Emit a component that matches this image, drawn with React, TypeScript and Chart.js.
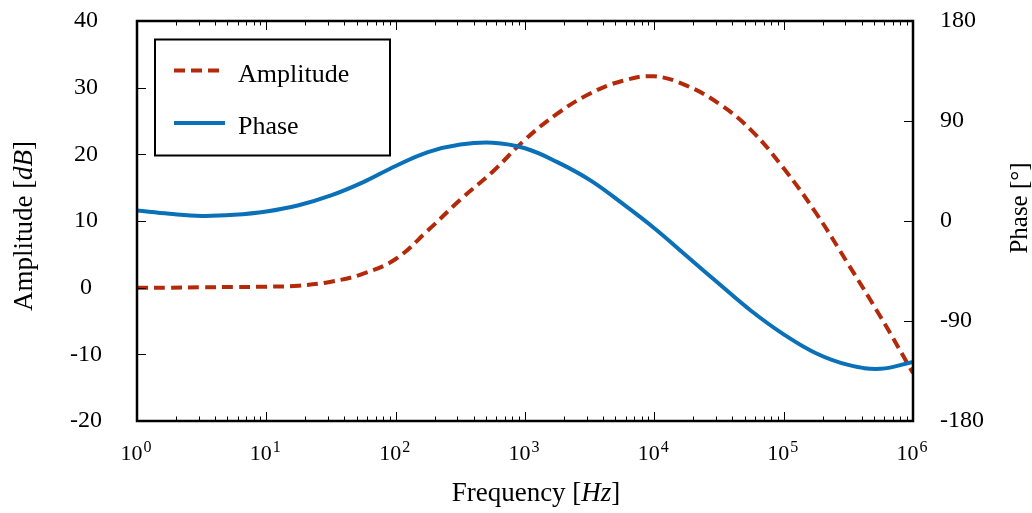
import React, { useEffect, useRef } from 'react';
import { Chart, registerables } from 'chart.js';

Chart.register(...registerables);

// ---- data ----
const frequencies = [
  1, 1.778, 3.162, 5.623, 10, 17.78, 31.62, 56.23, 100, 177.8, 316.2, 562.3,
  1000, 1778, 3162, 5623, 10000, 17783, 31623, 56234, 100000, 177828, 316228,
  562341, 1000000,
];
const amplitude = [
  0, 0, 0.05, 0.1, 0.15, 0.3, 0.9, 2.1, 4.3, 8.6, 13.2, 17.4, 22.2, 26.1, 29.1,
  31.0, 31.7, 30.3, 27.6, 23.6, 17.9, 11.2, 3.5, -4.4, -12.8,
];
const phase = [
  9.4, 6.5, 4.6, 5.6, 8.6, 14.2, 23, 35, 49.5, 62, 68.8, 70.5, 65.5, 53,
  37, 16, -6.5, -31.5, -56.5, -81, -102, -119, -129.5, -133, -126.8,
];
const xTickValues = [1, 10, 100, 1000, 10000, 100000, 1000000];
const xTickExponents = ['0', '1', '2', '3', '4', '5', '6'];
const xMinorMultipliers = [2, 3, 4, 5, 6, 7, 8, 9];
const yTickValues = [-20, -10, 0, 10, 20, 30, 40];
const y1TickValues = [-180, -90, 0, 90, 180];

const seriesNames = ['Amplitude', 'Phase'];
const RED = '#B3290A';
const BLUE = '#0A70B8';
const FONT = "'Liberation Serif', 'Times New Roman', serif";

const decorPlugin = {
  id: 'decor',
  afterDatasetsDraw(chart: any) {
    const ctx = chart.ctx as CanvasRenderingContext2D;
    const ca = chart.chartArea;
    const xs = chart.scales.x;
    const ys = chart.scales.y;
    const y1s = chart.scales.y1;
    ctx.save();
    ctx.strokeStyle = '#000';
    ctx.lineWidth = 1;
    ctx.beginPath();
    const major = 9;
    const minor = 4.5;
    xTickValues.forEach((v, i) => {
      const px = Math.round(xs.getPixelForValue(v)) + 0.5;
      ctx.moveTo(px, ca.bottom);
      ctx.lineTo(px, ca.bottom - major);
      ctx.moveTo(px, ca.top);
      ctx.lineTo(px, ca.top + major);
      if (i < xTickValues.length - 1) {
        xMinorMultipliers.forEach((m) => {
          const mx = Math.round(xs.getPixelForValue(v * m)) + 0.5;
          ctx.moveTo(mx, ca.bottom);
          ctx.lineTo(mx, ca.bottom - minor);
          ctx.moveTo(mx, ca.top);
          ctx.lineTo(mx, ca.top + minor);
        });
      }
    });
    yTickValues.forEach((v) => {
      const py = Math.round(ys.getPixelForValue(v)) + 0.5;
      ctx.moveTo(ca.left, py);
      ctx.lineTo(ca.left + major, py);
    });
    y1TickValues.forEach((v) => {
      const py = Math.round(y1s.getPixelForValue(v)) + 0.5;
      ctx.moveTo(ca.right, py);
      ctx.lineTo(ca.right - major, py);
    });
    ctx.stroke();
    ctx.lineWidth = 2.5;
    ctx.strokeRect(ca.left, ca.top, ca.right - ca.left, ca.bottom - ca.top);

    // legend
    const lx = ca.left + 18;
    const ly = ca.top + 18.5;
    ctx.fillStyle = '#fff';
    ctx.fillRect(lx, ly, 235, 116);
    ctx.lineWidth = 2;
    ctx.strokeRect(lx, ly, 235, 116);
    const ds = chart.data.datasets;
    const rows = [ly + 31, ly + 83.5];
    ds.forEach((d: any, i: number) => {
      ctx.beginPath();
      ctx.strokeStyle = d.borderColor;
      ctx.lineWidth = 4;
      ctx.setLineDash(d.borderDash || []);
      ctx.moveTo(lx + 19, rows[i]);
      ctx.lineTo(lx + 70, rows[i]);
      ctx.stroke();
      ctx.setLineDash([]);
      ctx.fillStyle = '#000';
      ctx.font = `26px ${FONT}`;
      ctx.textBaseline = 'alphabetic';
      ctx.textAlign = 'left';
      ctx.fillText(d.label, lx + 83, rows[i] + 11);
    });
    ctx.restore();
  },
  afterDraw(chart: any) {
    const ctx = chart.ctx as CanvasRenderingContext2D;
    const ca = chart.chartArea;
    const xs = chart.scales.x;
    ctx.save();
    ctx.fillStyle = '#000';
    ctx.textBaseline = 'alphabetic';
    ctx.textAlign = 'left';
    xTickValues.forEach((v, i) => {
      const px = xs.getPixelForValue(v);
      ctx.font = `22px ${FONT}`;
      const wb = ctx.measureText('10').width;
      ctx.font = `16px ${FONT}`;
      const we = ctx.measureText(xTickExponents[i]).width;
      const start = px - (wb + we) / 2 - 1.5;
      ctx.font = `22px ${FONT}`;
      ctx.fillText('10', start, 460);
      ctx.font = `16px ${FONT}`;
      ctx.fillText(xTickExponents[i], start + wb + 1, 451.5);
    });

    const drawMixed = (parts: [string, boolean][], cx: number, cy: number, size: number) => {
      let total = 0;
      parts.forEach(([t, it]) => {
        ctx.font = `${it ? 'italic ' : ''}${size}px ${FONT}`;
        total += ctx.measureText(t).width;
      });
      let x = cx - total / 2;
      parts.forEach(([t, it]) => {
        ctx.font = `${it ? 'italic ' : ''}${size}px ${FONT}`;
        ctx.fillText(t, x, cy);
        x += ctx.measureText(t).width;
      });
    };
    drawMixed([['Frequency [', false], ['Hz', true], [']', false]], 536, 501, 27);
    ctx.save();
    ctx.translate(32, 226);
    ctx.rotate(-Math.PI / 2);
    drawMixed([['Amplitude [', false], ['dB', true], [']', false]], 0, 0, 27);
    ctx.restore();
    ctx.save();
    ctx.translate(1027, 208);
    ctx.rotate(-Math.PI / 2);
    drawMixed([['Phase [°]', false]], 0, 0, 25);
    ctx.restore();
    ctx.restore();
  },
};

const fixVertical = (w: number) => (s: any) => {
  s.width = w;
  s.paddingTop = 0;
  s.paddingBottom = 0;
};

export default function App() {
  const ref = useRef<HTMLCanvasElement>(null);
  useEffect(() => {
    document.body.style.margin = '0';
    const canvas = ref.current!;
    const chart = new Chart(canvas, {
      type: 'line',
      data: {
        datasets: [
          {
            label: seriesNames[0],
            data: frequencies.map((f, i) => ({ x: f, y: amplitude[i] })),
            yAxisID: 'y',
            borderColor: RED,
            borderWidth: 4,
            borderDash: [11, 6],
            pointRadius: 0,
            tension: 0.4,
            fill: false,
            order: 2,
          },
          {
            label: seriesNames[1],
            data: frequencies.map((f, i) => ({ x: f, y: phase[i] })),
            yAxisID: 'y1',
            borderColor: BLUE,
            borderWidth: 4,
            pointRadius: 0,
            tension: 0.4,
            fill: false,
            order: 1,
          },
        ],
      },
      options: {
        responsive: false,
        animation: false,
        devicePixelRatio: 1,
        layout: { padding: { top: 21, left: 0, right: 0, bottom: 0 } },
        plugins: { legend: { display: false }, tooltip: { enabled: false } },
        scales: {
          x: {
            type: 'logarithmic',
            min: 1,
            max: 1000000,
            position: 'bottom',
            grid: { display: false, drawTicks: false },
            border: { display: false },
            ticks: { display: false },
            afterFit: (s: any) => {
              s.height = 92;
              s.paddingLeft = 0;
              s.paddingRight = 0;
            },
          },
          y: {
            position: 'left',
            min: -20,
            max: 40,
            afterBuildTicks: (s: any) => {
              s.ticks = yTickValues.map((v) => ({ value: v }));
            },
            ticks: {
              font: { family: FONT, size: 24 },
              color: '#000',
              crossAlign: 'center',
              padding: 35,
            },
            grid: { display: false, drawTicks: false },
            border: { display: false },
            afterFit: fixVertical(137),
          },
          y1: {
            position: 'right',
            min: -180,
            max: 180,
            afterBuildTicks: (s: any) => {
              s.ticks = y1TickValues.map((v) => ({ value: v }));
            },
            ticks: {
              font: { family: FONT, size: 24 },
              color: '#000',
              padding: 27,
            },
            grid: { display: false, drawTicks: false },
            border: { display: false },
            afterFit: fixVertical(119),
          },
        },
      } as any,
      plugins: [decorPlugin],
    });
    return () => chart.destroy();
  }, []);
  return (
    <div style={{ width: 1032, height: 513 }}>
      <canvas ref={ref} width={1032} height={513} style={{ display: 'block' }} />
    </div>
  );
}
